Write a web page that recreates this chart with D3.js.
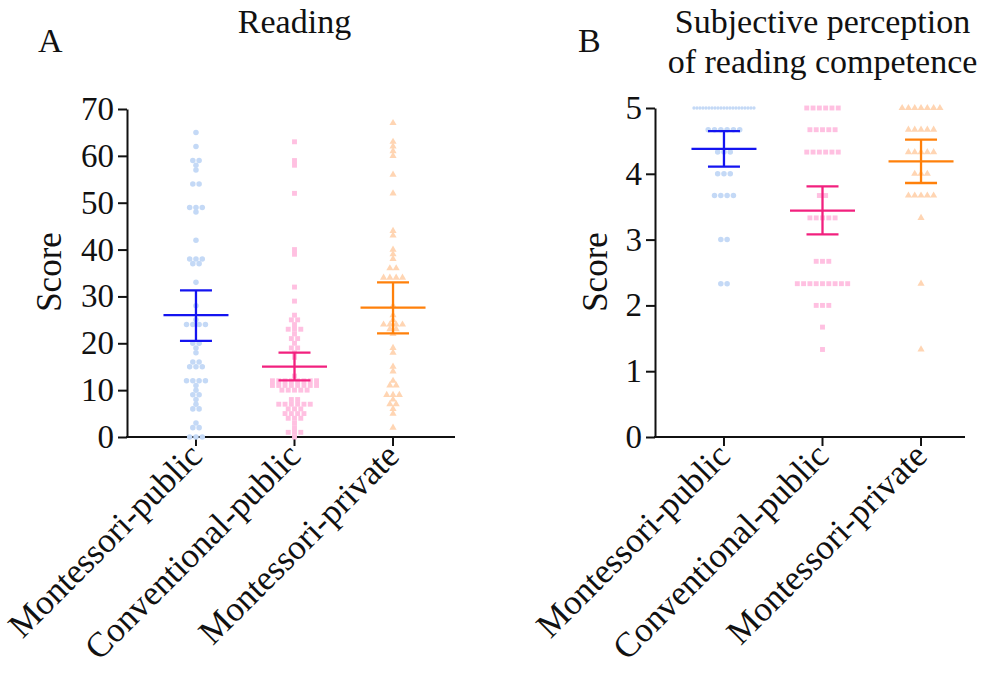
<!DOCTYPE html>
<html>
<head>
<meta charset="utf-8">
<script src="https://cdn.jsdelivr.net/npm/d3@7"></script>
<style>
  body { margin: 0; background: #fff; }
  svg text { font-family: "Liberation Serif", "DejaVu Serif", "Times New Roman", serif !important; }
</style>
</head>
<body>
<svg id="chart" width="988" height="677"></svg>
<script>
const groups = ['Montessori-public', 'Conventional-public', 'Montessori-private'];
const pointColors = ['#c4d9f6', '#ffc0e1', '#ffd5b3'];
const barColors = ['#1414f0', '#f2207e', '#ff800a'];
const shapes = [d3.symbolCircle, d3.symbolSquare, d3.symbolTriangle];
const serif = '"Liberation Serif", "DejaVu Serif", serif';

// Panel A - reading scores per group
const readingMP = [65, 62, 59, 59, 58, 57, 54, 54, 49, 49, 49, 48, 42, 38, 38, 38, 37, 37, 33, 28, 25,
  24, 24, 24, 24, 20, 20, 19, 18, 16, 16, 15, 15, 15, 12, 12, 12, 12, 11, 10, 9, 9, 8, 7, 6, 6, 3, 2, 2, 0, 0, 0];
const readingCP = [63, 59, 58, 52, 40, 39, 32, 29, 26, 25, 25, 24, 23, 23, 23, 22, 21, 21, 20, 19, 19, 18, 17, 13,
  12, 12, 12, 12, 12, 12, 12, 12, 11, 11, 11, 11, 11, 11, 11, 11, 10, 10, 10, 10, 10, 8, 8,
  7, 7, 7, 7, 7, 7, 6, 6, 6, 5, 5, 5, 5, 4, 4, 4, 3, 2, 1, 1, 1, 0];
const readingPriv = [67, 63, 62, 61, 60, 56, 52, 44, 43, 40, 39, 38, 36, 36, 34, 34, 34, 34, 28, 26, 25,
  24, 24, 24, 24, 23, 23, 22, 19, 18, 15, 14, 12, 11, 11, 9, 9, 9, 8, 7, 7, 6, 5, 2];
const readingMean = [26.0, 15.0, 27.6];
const readingLow = [20.5, 12.1, 22.1];
const readingHigh = [31.3, 18.0, 33.0];
const readingTicks = [0, 10, 20, 30, 40, 50, 60, 70];

// Panel B - subjective perception of reading competence
const perceptionMP = [5, 5, 5, 5, 5, 5, 5, 5, 5, 5, 5, 5, 5, 5, 5, 5, 5, 5, 5, 5, 5,
  4.67, 4.67, 4.67, 4.67, 4.67, 4.67, 4.33, 4.33, 4.33, 4, 4, 4, 3.67, 3.67, 3.67, 3.67, 3, 3, 2.33, 2.33];
const perceptionCP = [5, 5, 5, 5, 5, 5, 4.67, 4.67, 4.67, 4.67, 4.67, 4.33, 4.33, 4.33, 4.33, 4.33, 4.33,
  3.67, 3.67, 3.33, 3.33, 3.33, 3.33, 3.33, 2.67, 2.67, 2.67,
  2.33, 2.33, 2.33, 2.33, 2.33, 2.33, 2.33, 2.33, 2.33, 2, 2, 2, 1.67, 1.33];
const perceptionPriv = [5, 5, 5, 5, 5, 5, 5, 4.67, 4.67, 4.67, 4.67, 4.67, 4.33, 4.33, 4.33, 4.33, 4.33,
  4, 4, 4, 3.67, 3.67, 3.67, 3.67, 3.67, 3.33, 2.33, 1.33];
const perceptionMean = [4.38, 3.44, 4.19];
const perceptionLow = [4.11, 3.08, 3.86];
const perceptionHigh = [4.65, 3.81, 4.52];
const perceptionTicks = [0, 1, 2, 3, 4, 5];

const svg = d3.select('#chart');

// spread points of equal value side by side, squeeze (and shrink) wide rows
function swarm(values, cx) {
  const rows = d3.group(values, v => v.toFixed(2));
  const out = [];
  rows.forEach(row => {
    const n = row.length;
    const step = n > 1 ? Math.min(6.3, 60 / (n - 1)) : 6.3;
    const k = step < 6 ? Math.pow(step / 5, 2) : 1;
    row.forEach((v, i) => out.push({ v, x: cx + (i - (n - 1) / 2) * step, k }));
  });
  return out;
}

function drawPanel(cfg) {
  const g = svg.append('g');
  const y = d3.scaleLinear().domain(cfg.domain).range([437, cfg.top]);
  const x = d3.scalePoint().domain(groups).range([cfg.left, cfg.left + 335]).padding(0.7);

  // y axis
  const yAxis = g.append('g')
    .attr('transform', `translate(${cfg.left},0)`)
    .call(d3.axisLeft(y).tickValues(cfg.ticks).tickFormat(d3.format('d'))
      .tickSize(9).tickSizeOuter(0).tickPadding(4));
  yAxis.attr('font-family', serif);
  yAxis.selectAll('path, line').attr('stroke', '#111').attr('stroke-width', 2);
  yAxis.selectAll('text').attr('font-size', 33).attr('fill', '#111')
    .style('font-family', serif);

  // x axis
  g.append('line')
    .attr('x1', cfg.left - 1).attr('x2', cfg.right)
    .attr('y1', 437).attr('y2', 437)
    .attr('stroke', '#111').attr('stroke-width', 2);
  g.selectAll('.xtick').data(groups).join('line')
    .attr('x1', d => x(d)).attr('x2', d => x(d))
    .attr('y1', 437).attr('y2', 446)
    .attr('stroke', '#111').attr('stroke-width', 2);
  g.selectAll('.xlab').data(groups).join('text')
    .attr('transform', d => `translate(${x(d) + 8},${458}) rotate(-45)`)
    .attr('text-anchor', 'end')
    .attr('font-size', 35)
    .attr('fill', '#111')
    .style('font-family', serif)
    .text(d => d);

  // axis title
  g.append('text')
    .attr('transform', `translate(${cfg.left - cfg.titleGap},272) rotate(-90)`)
    .attr('text-anchor', 'middle')
    .attr('font-size', 35)
    .attr('fill', '#111')
    .style('font-family', serif)
    .text('Score');

  // points
  cfg.series.forEach((vals, i) => {
    g.append('g').selectAll('path')
      .data(swarm(vals, x(groups[i])))
      .join('path')
      .attr('transform', d => `translate(${d.x},${y(d.v)})`)
      .attr('d', d => d3.symbol().type(shapes[i]).size((i === 2 ? 22 : 24) * d.k)())
      .attr('fill', pointColors[i]);
  });

  // mean and CI bars
  groups.forEach((grp, i) => {
    const cx = x(grp);
    const eg = g.append('g').attr('stroke', barColors[i]).attr('stroke-width', 2.3);
    eg.append('line').attr('x1', cx).attr('x2', cx)
      .attr('y1', y(cfg.low[i])).attr('y2', y(cfg.high[i]));
    [cfg.low[i], cfg.high[i]].forEach(v => {
      eg.append('line').attr('x1', cx - 16).attr('x2', cx + 16)
        .attr('y1', y(v)).attr('y2', y(v));
    });
    eg.append('line').attr('x1', cx - 32.5).attr('x2', cx + 32.5)
      .attr('y1', y(cfg.mean[i])).attr('y2', y(cfg.mean[i]));
  });

  // titles
  cfg.title.forEach((t, k) => {
    g.append('text')
      .attr('x', x(groups[1])).attr('y', 33 + k * 40)
      .attr('text-anchor', 'middle')
      .attr('font-size', 34)
      .attr('fill', '#111')
      .style('font-family', serif)
      .text(t);
  });
  g.append('text')
    .attr('x', cfg.left - cfg.letterGap).attr('y', 52)
    .attr('font-size', 34)
    .attr('fill', '#111')
    .style('font-family', serif)
    .text(cfg.letter);
}

drawPanel({
  left: 127, right: 455, top: 109, domain: [0, 70], ticks: readingTicks,
  series: [readingMP, readingCP, readingPriv],
  mean: readingMean, low: readingLow, high: readingHigh,
  title: ['Reading'], letter: 'A', titleGap: 66, letterGap: 89
});

drawPanel({
  left: 655, right: 965, top: 108, domain: [0, 5], ticks: perceptionTicks,
  series: [perceptionMP, perceptionCP, perceptionPriv],
  mean: perceptionMean, low: perceptionLow, high: perceptionHigh,
  title: ['Subjective perception', 'of reading competence'], letter: 'B', titleGap: 48, letterGap: 77
});
</script>
</body>
</html>
